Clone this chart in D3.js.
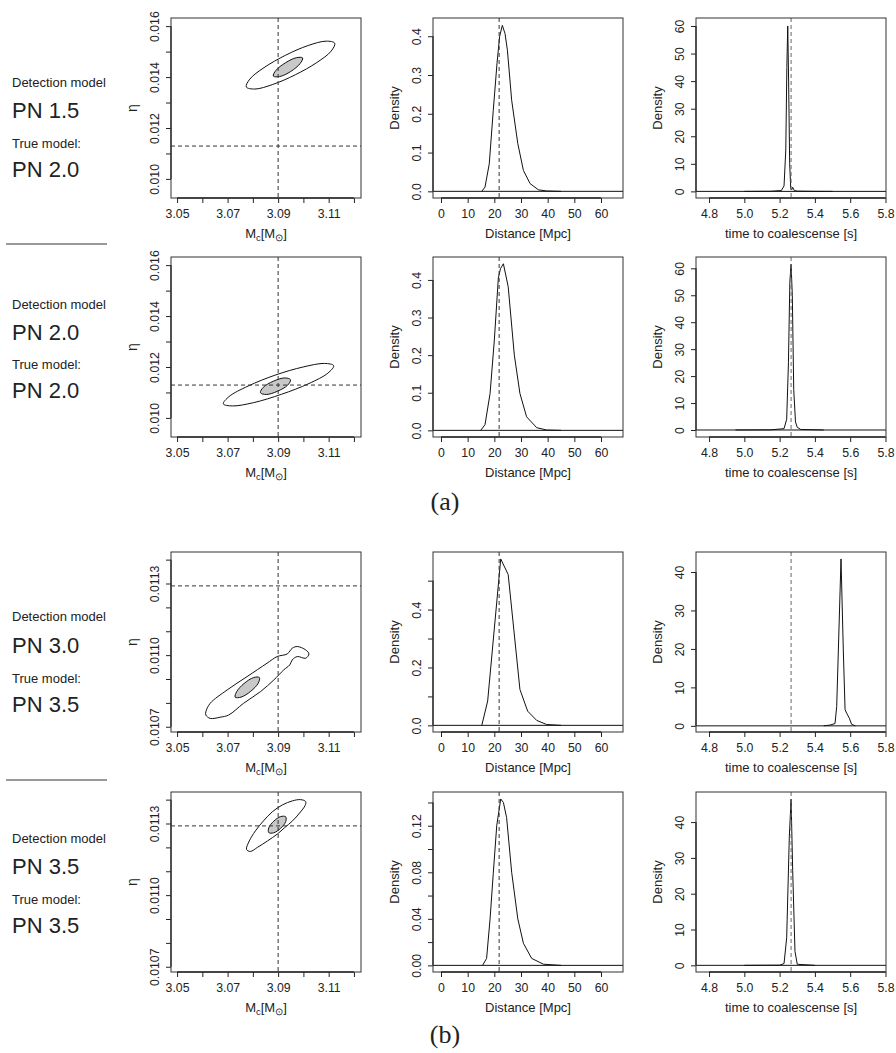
<!DOCTYPE html>
<html>
<head>
<meta charset="utf-8">
<script src="https://cdn.jsdelivr.net/npm/d3@7"></script>
<style>
  body { margin: 0; background: #fff; }
  text { font-family: "Liberation Sans", Arial, sans-serif; fill: #222; }
</style>
</head>
<body>
<svg id="chart" width="896" height="1053"></svg>
<script>
// ---- data ----
var detectionModels = ["PN 1.5", "PN 2.0", "PN 3.0", "PN 3.5"];
var trueModels = ["PN 2.0", "PN 2.0", "PN 3.5", "PN 3.5"];

var trueMc = 3.09, trueEta = 0.01129, trueDist = 21.8, trueTc = 5.265;

// credible regions [Mc, eta]
var outer1 = [[3.1124,0.01533],[3.1110,0.01502],[3.1053,0.01457],[3.0968,0.01409],[3.0879,0.01371],[3.0808,0.01353],[3.0774,0.01361],[3.0788,0.01392],[3.0844,0.01437],[3.0930,0.01486],[3.1019,0.01524],[3.1090,0.01541]];
var inner1 = [[3.0997,0.01475],[3.0987,0.01453],[3.0950,0.01422],[3.0906,0.01402],[3.0881,0.01404],[3.0891,0.01426],[3.0929,0.01456],[3.0972,0.01476]];
var outer2 = [[3.1120,0.01205],[3.1097,0.01176],[3.1022,0.01135],[3.0914,0.01093],[3.0803,0.01060],[3.0719,0.01047],[3.0683,0.01055],[3.0706,0.01084],[3.0781,0.01125],[3.0888,0.01168],[3.0999,0.01200],[3.1084,0.01214]];
var inner2 = [[3.0949,0.01150],[3.0937,0.01128],[3.0898,0.01105],[3.0853,0.01092],[3.0830,0.01099],[3.0841,0.01120],[3.0881,0.01144],[3.0926,0.01157]];
var outer3 = [[3.0614,0.010763],[3.0631,0.010798],[3.0698,0.010854],[3.0777,0.010910],[3.0856,0.010966],[3.0896,0.010994],[3.0936,0.011005],[3.0956,0.011029],[3.0976,0.011036],[3.1009,0.011022],[3.1022,0.011005],[3.1009,0.010987],[3.0976,0.010994],[3.0956,0.010980],[3.0946,0.010959],[3.0922,0.010938],[3.0883,0.010896],[3.0830,0.010847],[3.0763,0.010798],[3.0704,0.010749],[3.0671,0.010740],[3.0631,0.010735],[3.0614,0.010749]];
var inner3 = [[3.0826,0.010906],[3.0821,0.010882],[3.0791,0.010848],[3.0753,0.010824],[3.0730,0.010824],[3.0736,0.010847],[3.0765,0.010881],[3.0803,0.010906]];
var outer4 = [[3.0775,0.011191],[3.0786,0.011227],[3.0810,0.011269],[3.0842,0.011311],[3.0877,0.011349],[3.0917,0.011378],[3.0957,0.011395],[3.0989,0.011400],[3.1009,0.011392],[3.1007,0.011376],[3.0985,0.011344],[3.0957,0.011311],[3.0925,0.011282],[3.0897,0.011256],[3.0858,0.011227],[3.0818,0.011200],[3.0790,0.011183]];
var inner4 = [[3.0930,0.011328],[3.0930,0.011308],[3.0910,0.011280],[3.0882,0.011261],[3.0863,0.011262],[3.0863,0.011282],[3.0883,0.011310],[3.0910,0.011329]];

// distance posterior densities
var distX1 = [15.3, 16.5, 18.1, 19.6, 21.0, 22.0, 23.0, 24.0, 24.9, 26.5, 28.8, 30.9, 33.4, 36.5, 39.5, 45];
var distY1 = [0, 0.011, 0.071, 0.209, 0.33, 0.40, 0.428, 0.407, 0.364, 0.235, 0.123, 0.054, 0.02, 0.004, 0.001, 0];
var distX2 = [14.9, 16.5, 18.4, 20.0, 21.5, 22.3, 23.4, 25.2, 27.5, 29.6, 32.1, 35.9, 39.6, 45];
var distY2 = [0, 0.015, 0.098, 0.24, 0.405, 0.43, 0.443, 0.382, 0.2, 0.098, 0.036, 0.007, 0.001, 0];
var distX3 = [15.3, 17.5, 22.4, 25.2, 29.6, 32.5, 35.9, 39.6, 45];
var distY3 = [0, 0.084, 0.575, 0.521, 0.124, 0.049, 0.017, 0.003, 0];
var distX4 = [15.6, 17.1, 18.4, 19.6, 20.9, 22.4, 23.4, 24.6, 26.5, 28.8, 30.9, 34.0, 38.4, 45];
var distY4 = [0, 0.006, 0.04, 0.079, 0.12, 0.143, 0.14, 0.127, 0.08, 0.04, 0.019, 0.006, 0.001, 0];

// time to coalescence posterior densities
var tcX1 = [5.0, 5.15, 5.21, 5.225, 5.235, 5.241, 5.246, 5.251, 5.257, 5.263, 5.268, 5.274, 5.283, 5.3, 5.4, 5.5];
var tcY1 = [0, 0.05, 0.3, 2, 15, 45, 60, 40, 10, 1, 0.5, 1.5, 0.3, 0.1, 0.02, 0];
var tcX2 = [4.95, 5.15, 5.225, 5.24, 5.25, 5.258, 5.265, 5.272, 5.28, 5.29, 5.3, 5.32, 5.45];
var tcY2 = [0, 0.05, 0.5, 4, 25, 55, 61.5, 50, 15, 3, 1, 0.2, 0];
var tcX3 = [5.45, 5.486, 5.514, 5.5235, 5.533, 5.548, 5.561, 5.571, 5.580, 5.595, 5.608, 5.63];
var tcY3 = [0, 0.2, 0.6, 5, 19.7, 43.4, 19.7, 4.2, 3.3, 2, 0.4, 0];
var tcX4 = [5.0, 5.2, 5.225, 5.24, 5.255, 5.265, 5.274, 5.287, 5.30, 5.4];
var tcY4 = [0, 0.05, 0.5, 7.7, 35.9, 46.4, 26.5, 3.9, 0.3, 0];

// ticks and labels
var mcTicks = [3.05, 3.06, 3.07, 3.08, 3.09, 3.10, 3.11, 3.12];
var mcLabels = [3.05, 3.07, 3.09, 3.11];
var etaTicksA = [0.010, 0.011, 0.012, 0.013, 0.014, 0.015, 0.016];
var etaLabelsA = [0.010, 0.012, 0.014, 0.016];
var etaTicksB = [0.0107, 0.0108, 0.0109, 0.0110, 0.0111, 0.0112, 0.0113, 0.0114];
var etaLabelsB = [0.0107, 0.0110, 0.0113];
var distTicks = [0, 10, 20, 30, 40, 50, 60];
var densTicksA = [0, 0.1, 0.2, 0.3, 0.4];
var densTicks3 = [0, 0.1, 0.2, 0.3, 0.4, 0.5];
var densLabels3 = [0, 0.2, 0.4];
var densTicks4 = [0, 0.02, 0.04, 0.06, 0.08, 0.10, 0.12, 0.14];
var densLabels4 = [0, 0.04, 0.08, 0.12];
var tcTicks = [4.8, 5.0, 5.2, 5.4, 5.6, 5.8];
var tcDensTicksA = [0, 10, 20, 30, 40, 50, 60];
var tcDensTicksB = [0, 10, 20, 30, 40];

// ---- layout ----
var svg = d3.select("#chart");
var W = 190, H = 180;
var colX = [171, 433, 696];
var tickFont = "12.3px", titleFont = "13px";

var rows = [
  { top: 18, labelY: [87, 118, 148, 177],
    etaDomain: [0.00925, 0.01632], etaTicks: etaTicksA, etaLabels: etaLabelsA, etaFmt: ".3f",
    outer: outer1, inner: inner1,
    dx: distX1, dy: distY1, densDomain: [-0.0172, 0.447], densTicks: densTicksA, densLabels: densTicksA, densFmt: ".1f",
    tx: tcX1, ty: tcY1, tcDomain: [-2.4, 62.9], tcYTicks: tcDensTicksA },
  { top: 257, labelY: [309, 340, 369, 398],
    etaDomain: [0.00925, 0.01632], etaTicks: etaTicksA, etaLabels: etaLabelsA, etaFmt: ".3f",
    outer: outer2, inner: inner2,
    dx: distX2, dy: distY2, densDomain: [-0.0177, 0.461], densTicks: densTicksA, densLabels: densTicksA, densFmt: ".1f",
    tx: tcX2, ty: tcY2, tcDomain: [-2.6, 64.2], tcYTicks: tcDensTicksA },
  { top: 552, labelY: [621, 653, 683, 712],
    etaDomain: [0.010678, 0.011432], etaTicks: etaTicksB, etaLabels: etaLabelsB, etaFmt: ".4f",
    outer: outer3, inner: inner3,
    dx: distX3, dy: distY3, densDomain: [-0.023, 0.599], densTicks: densTicks3, densLabels: densLabels3, densFmt: ".1f",
    tx: tcX3, ty: tcY3, tcDomain: [-1.6, 45.2], tcYTicks: tcDensTicksB },
  { top: 792, labelY: [843, 874, 904, 933],
    etaDomain: [0.010678, 0.011432], etaTicks: etaTicksB, etaLabels: etaLabelsB, etaFmt: ".4f",
    outer: outer4, inner: inner4,
    dx: distX4, dy: distY4, densDomain: [-0.0057, 0.149], densTicks: densTicks4, densLabels: densLabels4, densFmt: ".2f",
    tx: tcX4, ty: tcY4, tcDomain: [-1.86, 48.4], tcYTicks: tcDensTicksB }
];

var clipId = 0;

function panel(x0, y0, xScale, yScale, xTicks, xLabels, xFmt, yTicks, yLabels, yFmt, xTitle, yTitle) {
  var g = svg.append("g").attr("transform", "translate(" + x0 + "," + y0 + ")");
  clipId++;
  g.append("clipPath").attr("id", "clip" + clipId)
    .append("rect").attr("width", W).attr("height", H);
  var plot = g.append("g").attr("clip-path", "url(#clip" + clipId + ")");

  var fx = d3.format(xFmt), fy = d3.format(yFmt);
  var xAxis = d3.axisBottom(xScale).tickValues(xTicks).tickSize(5).tickSizeOuter(0)
    .tickFormat(function(d) { return xLabels.indexOf(d) >= 0 ? fx(d) : ""; });
  var yAxis = d3.axisLeft(yScale).tickValues(yTicks).tickSize(5).tickSizeOuter(0)
    .tickFormat(function(d) { return yLabels.indexOf(d) >= 0 ? fy(d) : ""; });

  var gx = g.append("g").attr("transform", "translate(0," + H + ")").call(xAxis);
  gx.select(".domain").remove();
  gx.append("line")
    .attr("x1", xScale(xTicks[0])).attr("x2", xScale(xTicks[xTicks.length - 1]))
    .attr("stroke", "#222").attr("stroke-width", 1.3);
  gx.selectAll(".tick line").attr("stroke", "#222");
  gx.selectAll("text").attr("y", 19.5).attr("dy", 0)
    .style("font-size", tickFont).style("font-family", "'Liberation Sans', Arial, sans-serif").attr("fill", "#222");

  var gy = g.append("g").call(yAxis);
  gy.select(".domain").remove();
  gy.append("line")
    .attr("y1", yScale(yTicks[0])).attr("y2", yScale(yTicks[yTicks.length - 1]))
    .attr("stroke", "#222").attr("stroke-width", 1.3);
  gy.selectAll(".tick line").attr("stroke", "#222");
  gy.selectAll("text")
    .attr("x", 0).attr("y", -12).attr("dy", 0)
    .attr("text-anchor", "middle").attr("transform", "rotate(-90)")
    .style("font-size", tickFont).style("font-family", "'Liberation Sans', Arial, sans-serif").attr("fill", "#222");

  g.append("rect").attr("width", W).attr("height", H)
    .attr("fill", "none").attr("stroke", "#333").attr("stroke-width", 1);

  // axis titles
  var xt = g.append("text").attr("x", W / 2).attr("y", H + 40)
    .attr("text-anchor", "middle").style("font-size", titleFont);
  if (xTitle === "mc") {
    xt.append("tspan").text("M");
    xt.append("tspan").attr("dy", 3).style("font-size", "9.5px").text("c");
    xt.append("tspan").attr("dy", -3).text("[M");
    xt.append("tspan").attr("dy", 3).style("font-size", "9.5px").text("⊙");
    xt.append("tspan").attr("dy", -3).text("]");
  } else {
    xt.text(xTitle);
  }
  g.append("text").attr("transform", "translate(-34," + (H / 2) + ") rotate(-90)")
    .attr("text-anchor", "middle").style("font-size", yTitle === "η" ? "14px" : titleFont)
    .text(yTitle);

  return plot;
}

var xMc = d3.scaleLinear().domain([3.0476, 3.1228]).range([0, W]);
var xDist = d3.scaleLinear().domain([-3.0, 68.25]).range([0, W]);
var xTc = d3.scaleLinear().domain([4.726, 5.803]).range([0, W]);

var dashStyle = "4,3";

rows.forEach(function(r, i) {
  // left labels
  var lab = svg.append("g");
  lab.append("text").attr("x", 12).attr("y", r.labelY[0]).style("font-size", "13px").text("Detection model");
  lab.append("text").attr("x", 12).attr("y", r.labelY[1]).style("font-size", "22px").text(detectionModels[i]);
  lab.append("text").attr("x", 12).attr("y", r.labelY[2]).style("font-size", "13px").text("True model:");
  lab.append("text").attr("x", 12).attr("y", r.labelY[3]).style("font-size", "22px").text(trueModels[i]);

  // contour panel
  var yEta = d3.scaleLinear().domain(r.etaDomain).range([H, 0]);
  var p1 = panel(colX[0], r.top, xMc, yEta, mcTicks, mcLabels, ".2f",
    r.etaTicks, r.etaLabels, r.etaFmt, "mc", "η");
  var closed = d3.line().x(function(d) { return xMc(d[0]); }).y(function(d) { return yEta(d[1]); })
    .curve(d3.curveCatmullRomClosed.alpha(0.5));
  p1.append("path").attr("d", closed(r.inner)).attr("fill", "#c8c8c8").attr("stroke", "#111").attr("stroke-width", 1);
  p1.append("path").attr("d", closed(r.outer)).attr("fill", "none").attr("stroke", "#111").attr("stroke-width", 1);
  p1.append("line").attr("x1", xMc(trueMc)).attr("x2", xMc(trueMc)).attr("y1", 0).attr("y2", H)
    .attr("stroke", "#333").attr("stroke-dasharray", dashStyle);
  p1.append("line").attr("x1", 0).attr("x2", W).attr("y1", yEta(trueEta)).attr("y2", yEta(trueEta))
    .attr("stroke", "#333").attr("stroke-dasharray", dashStyle);

  // distance panel
  var yDens = d3.scaleLinear().domain(r.densDomain).range([H, 0]);
  var p2 = panel(colX[1], r.top, xDist, yDens, distTicks, distTicks, "d",
    r.densTicks, r.densLabels, r.densFmt, "Distance [Mpc]", "Density");
  p2.append("line").attr("x1", 0).attr("x2", W).attr("y1", yDens(0)).attr("y2", yDens(0))
    .attr("stroke", "#111").attr("stroke-width", 1);
  var distLine = d3.line().x(function(d, k) { return xDist(r.dx[k]); }).y(function(d) { return yDens(d); });
  p2.append("path").attr("d", distLine(r.dy)).attr("fill", "none").attr("stroke", "#111").attr("stroke-width", 1);
  p2.append("line").attr("x1", xDist(trueDist)).attr("x2", xDist(trueDist)).attr("y1", 0).attr("y2", H)
    .attr("stroke", "#333").attr("stroke-dasharray", dashStyle);

  // time to coalescence panel
  var yTcD = d3.scaleLinear().domain(r.tcDomain).range([H, 0]);
  var p3 = panel(colX[2], r.top, xTc, yTcD, tcTicks, tcTicks, ".1f",
    r.tcYTicks, r.tcYTicks, "d", "time to coalescense [s]", "Density");
  p3.append("line").attr("x1", 0).attr("x2", W).attr("y1", yTcD(0)).attr("y2", yTcD(0))
    .attr("stroke", "#111").attr("stroke-width", 1);
  var tcLine = d3.line().x(function(d, k) { return xTc(r.tx[k]); }).y(function(d) { return yTcD(d); });
  p3.append("path").attr("d", tcLine(r.ty)).attr("fill", "none").attr("stroke", "#111").attr("stroke-width", 1);
  p3.append("line").attr("x1", xTc(trueTc)).attr("x2", xTc(trueTc)).attr("y1", 0).attr("y2", H)
    .attr("stroke", "#666").attr("stroke-dasharray", dashStyle);
});

// separators between the rows of each group
[244, 780].forEach(function(y) {
  svg.append("line").attr("x1", 6).attr("x2", 107).attr("y1", y).attr("y2", y)
    .attr("stroke", "#333").attr("stroke-width", 1);
});

// group captions
[["(a)", 510], ["(b)", 1043]].forEach(function(c) {
  svg.append("text").attr("x", 445).attr("y", c[1]).attr("text-anchor", "middle")
    .style("font-family", "'Liberation Serif', 'Times New Roman', serif").style("font-size", "26px")
    .text(c[0]);
});
</script>
</body>
</html>
